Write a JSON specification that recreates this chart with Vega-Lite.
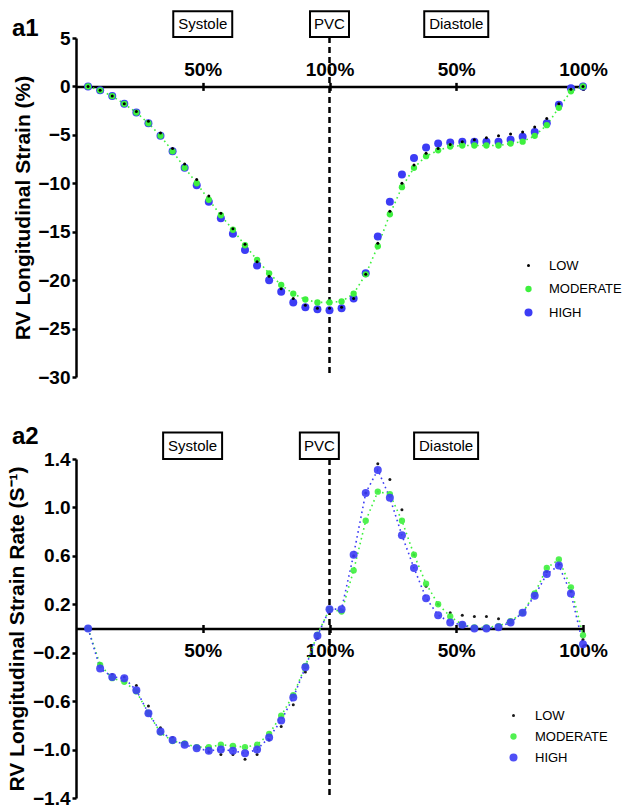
{
"$schema": "https://vega.github.io/schema/vega-lite/v6.json",
"padding": {"left": 6, "top": 7, "right": 0, "bottom": 0},
"config": {
  "view": {"stroke": null},
  "font": "Liberation Sans",
  "axis": {"domainColor": "#000", "domainWidth": 2.5, "tickColor": "#000", "tickWidth": 2.5, "tickSize": 4, "labelColor": "#000", "labelFont": "Liberation Sans", "labelFontWeight": "bold", "labelFontSize": 19, "labelFlush": false, "labelOverlap": false, "titleColor": "#000", "titleFont": "Liberation Sans", "titleFontWeight": "bold", "titleFontSize": 21, "grid": false},
  "legend": {"labelFont": "Liberation Sans", "labelFontSize": 13, "labelFontWeight": "normal", "labelColor": "#000", "symbolStrokeWidth": 0, "padding": 0, "symbolType": "circle"},
  "title": {"font": "Liberation Sans", "fontSize": 24, "fontWeight": "bold", "color": "#000", "anchor": "start"}
},
"resolve": {"scale": {"color": "independent", "size": "independent", "shape": "independent"}, "legend": {"color": "independent", "size": "independent"}},
"datasets": {
  "a1": [
    {"x": 4.76, "LOW": 0, "MODERATE": 0, "HIGH": 0},
    {"x": 9.52, "LOW": -0.4, "MODERATE": -0.4, "HIGH": -0.4},
    {"x": 14.29, "LOW": -1.0, "MODERATE": -1.0, "HIGH": -1.0},
    {"x": 19.05, "LOW": -1.8, "MODERATE": -1.8, "HIGH": -1.8},
    {"x": 23.81, "LOW": -2.6, "MODERATE": -2.7, "HIGH": -2.7},
    {"x": 28.57, "LOW": -3.6, "MODERATE": -3.8, "HIGH": -3.8},
    {"x": 33.33, "LOW": -4.8, "MODERATE": -5.1, "HIGH": -5.1},
    {"x": 38.10, "LOW": -6.4, "MODERATE": -6.7, "HIGH": -6.7},
    {"x": 42.86, "LOW": -8.0, "MODERATE": -8.4, "HIGH": -8.4},
    {"x": 47.62, "LOW": -9.6, "MODERATE": -10.0, "HIGH": -10.2},
    {"x": 52.38, "LOW": -11.3, "MODERATE": -11.7, "HIGH": -11.9},
    {"x": 57.14, "LOW": -13.1, "MODERATE": -13.3, "HIGH": -13.6},
    {"x": 61.90, "LOW": -14.7, "MODERATE": -14.8, "HIGH": -15.2},
    {"x": 66.67, "LOW": -16.3, "MODERATE": -16.4, "HIGH": -16.9},
    {"x": 71.43, "LOW": -18.1, "MODERATE": -17.9, "HIGH": -18.5},
    {"x": 76.19, "LOW": -19.6, "MODERATE": -19.3, "HIGH": -20.0},
    {"x": 80.95, "LOW": -20.9, "MODERATE": -20.5, "HIGH": -21.2},
    {"x": 85.71, "LOW": -21.9, "MODERATE": -21.4, "HIGH": -22.3},
    {"x": 90.48, "LOW": -22.6, "MODERATE": -22.0, "HIGH": -22.8},
    {"x": 95.24, "LOW": -22.9, "MODERATE": -22.3, "HIGH": -23.0},
    {"x": 100, "LOW": -22.9, "MODERATE": -22.3, "HIGH": -23.1},
    {"x": 104.76, "LOW": -22.8, "MODERATE": -22.2, "HIGH": -22.9},
    {"x": 109.52, "LOW": -21.9, "MODERATE": -21.4, "HIGH": -21.9},
    {"x": 114.29, "LOW": -19.4, "MODERATE": -19.4, "HIGH": -19.3},
    {"x": 119.05, "LOW": -16.2, "MODERATE": -16.5, "HIGH": -15.5},
    {"x": 123.81, "LOW": -12.9, "MODERATE": -13.2, "HIGH": -11.9},
    {"x": 128.57, "LOW": -10.0, "MODERATE": -10.4, "HIGH": -9.1},
    {"x": 133.33, "LOW": -8.1, "MODERATE": -8.4, "HIGH": -7.4},
    {"x": 138.10, "LOW": -6.9, "MODERATE": -7.2, "HIGH": -6.3},
    {"x": 142.86, "LOW": -6.4, "MODERATE": -6.6, "HIGH": -5.9},
    {"x": 147.62, "LOW": -6.0, "MODERATE": -6.2, "HIGH": -5.8},
    {"x": 152.38, "LOW": -5.7, "MODERATE": -6.1, "HIGH": -5.7},
    {"x": 157.14, "LOW": -5.5, "MODERATE": -6.1, "HIGH": -5.7},
    {"x": 161.90, "LOW": -5.3, "MODERATE": -6.1, "HIGH": -5.7},
    {"x": 166.67, "LOW": -5.1, "MODERATE": -6.1, "HIGH": -5.7},
    {"x": 171.43, "LOW": -4.9, "MODERATE": -5.9, "HIGH": -5.5},
    {"x": 176.19, "LOW": -4.7, "MODERATE": -5.7, "HIGH": -5.2},
    {"x": 180.95, "LOW": -4.2, "MODERATE": -5.1, "HIGH": -4.7},
    {"x": 185.71, "LOW": -3.3, "MODERATE": -4.0, "HIGH": -3.8},
    {"x": 190.48, "LOW": -1.8, "MODERATE": -2.2, "HIGH": -1.9},
    {"x": 195.24, "LOW": -0.3, "MODERATE": -0.5, "HIGH": -0.2},
    {"x": 200, "LOW": 0, "MODERATE": 0, "HIGH": 0}
  ],
  "a2": [
    {"x": 4.76, "LOW": 0, "MODERATE": 0, "HIGH": 0},
    {"x": 9.52, "LOW": -0.29, "MODERATE": -0.30, "HIGH": -0.33},
    {"x": 14.29, "LOW": -0.38, "MODERATE": -0.41, "HIGH": -0.40},
    {"x": 19.05, "LOW": -0.40, "MODERATE": -0.44, "HIGH": -0.41},
    {"x": 23.81, "LOW": -0.47, "MODERATE": -0.52, "HIGH": -0.51},
    {"x": 28.57, "LOW": -0.64, "MODERATE": -0.70, "HIGH": -0.70},
    {"x": 33.33, "LOW": -0.82, "MODERATE": -0.86, "HIGH": -0.85},
    {"x": 38.10, "LOW": -0.90, "MODERATE": -0.93, "HIGH": -0.92},
    {"x": 42.86, "LOW": -0.95, "MODERATE": -0.95, "HIGH": -0.96},
    {"x": 47.62, "LOW": -0.98, "MODERATE": -0.98, "HIGH": -0.99},
    {"x": 52.38, "LOW": -1.02, "MODERATE": -0.98, "HIGH": -1.01},
    {"x": 57.14, "LOW": -1.04, "MODERATE": -0.96, "HIGH": -1.00},
    {"x": 61.90, "LOW": -1.04, "MODERATE": -0.97, "HIGH": -1.01},
    {"x": 66.67, "LOW": -1.08, "MODERATE": -0.98, "HIGH": -1.03},
    {"x": 71.43, "LOW": -1.04, "MODERATE": -0.96, "HIGH": -1.00},
    {"x": 76.19, "LOW": -0.92, "MODERATE": -0.87, "HIGH": -0.90},
    {"x": 80.95, "LOW": -0.81, "MODERATE": -0.72, "HIGH": -0.76},
    {"x": 85.71, "LOW": -0.63, "MODERATE": -0.55, "HIGH": -0.57},
    {"x": 90.48, "LOW": -0.36, "MODERATE": -0.31, "HIGH": -0.32},
    {"x": 95.24, "LOW": -0.08, "MODERATE": -0.05, "HIGH": -0.06},
    {"x": 100, "LOW": 0.16, "MODERATE": 0.16, "HIGH": 0.16},
    {"x": 104.76, "LOW": 0.15, "MODERATE": 0.14, "HIGH": 0.16},
    {"x": 109.52, "LOW": 0.60, "MODERATE": 0.48, "HIGH": 0.61},
    {"x": 114.29, "LOW": 1.12, "MODERATE": 0.89, "HIGH": 1.12},
    {"x": 119.05, "LOW": 1.36, "MODERATE": 1.13, "HIGH": 1.31},
    {"x": 123.81, "LOW": 1.23, "MODERATE": 1.11, "HIGH": 1.08},
    {"x": 128.57, "LOW": 0.98, "MODERATE": 0.89, "HIGH": 0.77},
    {"x": 133.33, "LOW": 0.61, "MODERATE": 0.61, "HIGH": 0.50},
    {"x": 138.10, "LOW": 0.35, "MODERATE": 0.37, "HIGH": 0.25},
    {"x": 142.86, "LOW": 0.20, "MODERATE": 0.20, "HIGH": 0.11},
    {"x": 147.62, "LOW": 0.13, "MODERATE": 0.10, "HIGH": 0.05},
    {"x": 152.38, "LOW": 0.11, "MODERATE": 0.03, "HIGH": 0.03},
    {"x": 157.14, "LOW": 0.10, "MODERATE": 0.01, "HIGH": 0.00},
    {"x": 161.90, "LOW": 0.10, "MODERATE": 0.01, "HIGH": 0.00},
    {"x": 166.67, "LOW": 0.08, "MODERATE": 0.02, "HIGH": 0.01},
    {"x": 171.43, "LOW": 0.07, "MODERATE": 0.06, "HIGH": 0.05},
    {"x": 176.19, "LOW": 0.13, "MODERATE": 0.13, "HIGH": 0.13},
    {"x": 180.95, "LOW": 0.27, "MODERATE": 0.29, "HIGH": 0.27},
    {"x": 185.71, "LOW": 0.47, "MODERATE": 0.50, "HIGH": 0.45},
    {"x": 190.48, "LOW": 0.53, "MODERATE": 0.57, "HIGH": 0.52},
    {"x": 195.24, "LOW": 0.31, "MODERATE": 0.34, "HIGH": 0.29},
    {"x": 200, "LOW": -0.09, "MODERATE": -0.055, "HIGH": -0.13}
  ],
  "boxes1": [
    {"label": "Systole", "x": 50},
    {"label": "PVC", "x": 100},
    {"label": "Diastole", "x": 150}
  ],
  "boxes2": [
    {"label": "Systole", "x": 46},
    {"label": "PVC", "x": 96},
    {"label": "Diastole", "x": 146}
  ]
},
"spacing": 38,
"vconcat": [
  {
    "width": 507,
    "height": 339,
    "title": {"text": "a1", "frame": "group", "dx": -64, "dy": 38},
    "resolve": {"axis": {"x": "independent"}},
    "layer": [
      {
        "data": {"values": [{"x": 100}]},
        "mark": {"type": "rule", "color": "#000", "strokeWidth": 2.5, "strokeDash": [6, 4]},
        "encoding": {
          "x": {"field": "x", "type": "quantitative", "scale": {"domain": [0, 200], "nice": false, "zero": false}, "axis": {"orient": "bottom", "offset": -290.6, "values": [50, 100, 150, 200], "labels": false, "domain": false, "title": null}},
          "y": {"datum": 5.1, "type": "quantitative", "scale": {"domain": [-30, 5], "nice": false}, "axis": {"values": [-30, -25, -20, -15, -10, -5, 0, 5], "title": "RV Longitudinal Strain (%)", "labelPadding": 2, "titlePadding": 4}},
          "y2": {"datum": -30}
        }
      },
      {
        "data": {"name": "a1"},
        "mark": {"type": "line", "color": "#3ef03e", "strokeWidth": 1.6, "strokeDash": [1.6, 3.4]},
        "encoding": {
          "x": {"field": "x", "type": "quantitative", "scale": {"domain": [0, 200], "nice": false, "zero": false}, "axis": null},
          "y": {"field": "MODERATE", "type": "quantitative", "scale": {"domain": [-30, 5], "nice": false}, "axis": {"values": [-30, -25, -20, -15, -10, -5, 0, 5], "title": "RV Longitudinal Strain (%)", "labelPadding": 2, "titlePadding": 4}}
        }
      },
      {
        "data": {"name": "a1"},
        "transform": [{"fold": ["HIGH", "MODERATE", "LOW"], "as": ["series", "value"]}],
        "mark": {"type": "point", "filled": true, "opacity": 1},
        "encoding": {
          "x": {"field": "x", "type": "quantitative", "scale": {"domain": [0, 200], "nice": false, "zero": false}, "axis": {"orient": "top", "offset": -48.4, "values": [50, 100, 150, 200], "labelExpr": "datum.value == 50 || datum.value == 150 ? '50%' : '100%'", "labelPadding": 3, "title": null}},
          "y": {"field": "value", "type": "quantitative", "scale": {"domain": [-30, 5], "nice": false}, "axis": {"values": [-30, -25, -20, -15, -10, -5, 0, 5], "title": "RV Longitudinal Strain (%)", "labelPadding": 2, "titlePadding": 4}},
          "color": {"field": "series", "type": "nominal", "scale": {"domain": ["LOW", "MODERATE", "HIGH"], "range": ["#000000", "#3ef03e", "#3c3cf5"]}, "legend": {"orient": "none", "legendX": 446, "legendY": 221, "title": null, "labelOffset": 14, "rowPadding": 9.5, "encode": {"symbols": {"update": {"shape": {"signal": "datum.value === 'MODERATE' ? 'M1,0A1,1 0 1,1 -1,0A1,1 0 1,1 1,0Z M-2.6,-0.22h0.44v0.44h-0.44Z M2.16,-0.22h0.44v0.44h-0.44Z' : 'circle'"}}}}}},
          "size": {"field": "series", "type": "nominal", "scale": {"type": "ordinal", "domain": ["LOW", "MODERATE", "HIGH"], "range": [9, 40, 64]}, "legend": {"orient": "none", "legendX": 446, "legendY": 221, "title": null, "labelOffset": 14, "rowPadding": 9.5, "encode": {"symbols": {"update": {"shape": {"signal": "datum.value === 'MODERATE' ? 'M1,0A1,1 0 1,1 -1,0A1,1 0 1,1 1,0Z M-2.6,-0.22h0.44v0.44h-0.44Z M2.16,-0.22h0.44v0.44h-0.44Z' : 'circle'"}}}}}}
        }
      },
      {
        "data": {"name": "boxes1"},
        "mark": {"type": "point", "filled": false, "fill": "#fff", "fillOpacity": 1, "stroke": "#000", "strokeWidth": 2, "opacity": 1, "size": 3600},
        "encoding": {
          "x": {"field": "x", "type": "quantitative", "scale": {"domain": [0, 200], "nice": false, "zero": false}, "axis": null},
          "y": {"datum": 6.43, "type": "quantitative", "scale": {"domain": [-30, 5], "nice": false}, "axis": {"values": [-30, -25, -20, -15, -10, -5, 0, 5], "title": "RV Longitudinal Strain (%)", "labelPadding": 2, "titlePadding": 4}},
          "shape": {"field": "label", "type": "nominal", "scale": {"domain": ["Systole", "PVC", "Diastole"], "range": ["M-0.983,-0.43L0.983,-0.43L0.983,0.43L-0.983,0.43Z", "M-0.65,-0.43L0.65,-0.43L0.65,0.43L-0.65,0.43Z", "M-1.067,-0.43L1.067,-0.43L1.067,0.43L-1.067,0.43Z"]}, "legend": null}
        }
      },
      {
        "data": {"name": "boxes1"},
        "mark": {"type": "text", "fontSize": 15, "color": "#000", "baseline": "middle", "font": "Liberation Sans"},
        "encoding": {
          "x": {"field": "x", "type": "quantitative", "scale": {"domain": [0, 200], "nice": false, "zero": false}, "axis": null},
          "y": {"datum": 6.43, "type": "quantitative", "scale": {"domain": [-30, 5], "nice": false}, "axis": {"values": [-30, -25, -20, -15, -10, -5, 0, 5], "title": "RV Longitudinal Strain (%)", "labelPadding": 2, "titlePadding": 4}},
          "text": {"field": "label"}
        }
      }
    ]
  },
  {
    "width": 507,
    "height": 339,
    "title": {"text": "a2", "frame": "group", "dx": -64, "dy": 25},
    "resolve": {"axis": {"x": "independent"}},
    "layer": [
      {
        "data": {"values": [{"x": 100}]},
        "mark": {"type": "rule", "color": "#000", "strokeWidth": 2.5, "strokeDash": [6, 4]},
        "encoding": {
          "x": {"field": "x", "type": "quantitative", "scale": {"domain": [0, 200], "nice": false, "zero": false}, "axis": {"orient": "top", "offset": -169.5, "values": [50, 100, 150, 200], "labels": false, "domain": false, "title": null}},
          "y": {"datum": 1.4, "type": "quantitative", "scale": {"domain": [-1.4, 1.4], "nice": false}, "axis": {"values": [-1.4, -1.0, -0.6, -0.2, 0.2, 0.6, 1.0, 1.4], "format": ".1f", "title": "RV Longitudinal Strain Rate (S⁻¹)", "labelPadding": 2, "titlePadding": 5}},
          "y2": {"datum": -1.4}
        }
      },
      {
        "data": {"name": "a2"},
        "mark": {"type": "line", "color": "#3ef03e", "strokeWidth": 1.6, "strokeDash": [1.6, 3.4]},
        "encoding": {
          "x": {"field": "x", "type": "quantitative", "scale": {"domain": [0, 200], "nice": false, "zero": false}, "axis": null},
          "y": {"field": "MODERATE", "type": "quantitative", "scale": {"domain": [-1.4, 1.4], "nice": false}, "axis": {"values": [-1.4, -1.0, -0.6, -0.2, 0.2, 0.6, 1.0, 1.4], "format": ".1f", "title": "RV Longitudinal Strain Rate (S⁻¹)", "labelPadding": 2, "titlePadding": 5}}
        }
      },
      {
        "data": {"name": "a2"},
        "mark": {"type": "line", "color": "#3c3cf5", "strokeWidth": 1.6, "strokeDash": [1.6, 3.4]},
        "encoding": {
          "x": {"field": "x", "type": "quantitative", "scale": {"domain": [0, 200], "nice": false, "zero": false}, "axis": null},
          "y": {"field": "HIGH", "type": "quantitative", "scale": {"domain": [-1.4, 1.4], "nice": false}, "axis": {"values": [-1.4, -1.0, -0.6, -0.2, 0.2, 0.6, 1.0, 1.4], "format": ".1f", "title": "RV Longitudinal Strain Rate (S⁻¹)", "labelPadding": 2, "titlePadding": 5}}
        }
      },
      {
        "data": {"name": "a2"},
        "transform": [{"fold": ["LOW", "MODERATE", "HIGH"], "as": ["series", "value"]}],
        "mark": {"type": "point", "filled": true, "opacity": 0.9},
        "encoding": {
          "x": {"field": "x", "type": "quantitative", "scale": {"domain": [0, 200], "nice": false, "zero": false}, "axis": {"orient": "bottom", "offset": -169.5, "values": [50, 100, 150, 200], "labelExpr": "datum.value == 50 || datum.value == 150 ? '50%' : '100%'", "labelPadding": 9, "title": null}},
          "y": {"field": "value", "type": "quantitative", "scale": {"domain": [-1.4, 1.4], "nice": false}, "axis": {"values": [-1.4, -1.0, -0.6, -0.2, 0.2, 0.6, 1.0, 1.4], "format": ".1f", "title": "RV Longitudinal Strain Rate (S⁻¹)", "labelPadding": 2, "titlePadding": 5}},
          "color": {"field": "series", "type": "nominal", "scale": {"domain": ["LOW", "MODERATE", "HIGH"], "range": ["#000000", "#3ef03e", "#3c3cf5"]}, "legend": {"orient": "none", "legendX": 431, "legendY": 250, "title": null, "labelOffset": 15, "rowPadding": 7, "encode": {"symbols": {"update": {"shape": {"signal": "datum.value === 'MODERATE' ? 'M1,0A1,1 0 1,1 -1,0A1,1 0 1,1 1,0Z M-2.6,-0.22h0.44v0.44h-0.44Z M2.16,-0.22h0.44v0.44h-0.44Z' : datum.value === 'HIGH' ? 'M1,0A1,1 0 1,1 -1,0A1,1 0 1,1 1,0Z M-2.0,-0.18h0.36v0.36h-0.36Z M1.64,-0.18h0.36v0.36h-0.36Z' : 'circle'"}}}}}},
          "size": {"field": "series", "type": "nominal", "scale": {"type": "ordinal", "domain": ["LOW", "MODERATE", "HIGH"], "range": [9, 40, 64]}, "legend": {"orient": "none", "legendX": 431, "legendY": 250, "title": null, "labelOffset": 15, "rowPadding": 7, "encode": {"symbols": {"update": {"shape": {"signal": "datum.value === 'MODERATE' ? 'M1,0A1,1 0 1,1 -1,0A1,1 0 1,1 1,0Z M-2.6,-0.22h0.44v0.44h-0.44Z M2.16,-0.22h0.44v0.44h-0.44Z' : datum.value === 'HIGH' ? 'M1,0A1,1 0 1,1 -1,0A1,1 0 1,1 1,0Z M-2.0,-0.18h0.36v0.36h-0.36Z M1.64,-0.18h0.36v0.36h-0.36Z' : 'circle'"}}}}}}
        }
      },
      {
        "data": {"name": "boxes2"},
        "mark": {"type": "point", "filled": false, "fill": "#fff", "fillOpacity": 1, "stroke": "#000", "strokeWidth": 2, "opacity": 1, "size": 3600},
        "encoding": {
          "x": {"field": "x", "type": "quantitative", "scale": {"domain": [0, 200], "nice": false, "zero": false}, "axis": null},
          "y": {"datum": 1.51, "type": "quantitative", "scale": {"domain": [-1.4, 1.4], "nice": false}, "axis": {"values": [-1.4, -1.0, -0.6, -0.2, 0.2, 0.6, 1.0, 1.4], "format": ".1f", "title": "RV Longitudinal Strain Rate (S⁻¹)", "labelPadding": 2, "titlePadding": 5}},
          "shape": {"field": "label", "type": "nominal", "scale": {"domain": ["Systole", "PVC", "Diastole"], "range": ["M-0.983,-0.443L0.983,-0.443L0.983,0.443L-0.983,0.443Z", "M-0.65,-0.443L0.65,-0.443L0.65,0.443L-0.65,0.443Z", "M-1.067,-0.443L1.067,-0.443L1.067,0.443L-1.067,0.443Z"]}, "legend": null}
        }
      },
      {
        "data": {"name": "boxes2"},
        "mark": {"type": "text", "fontSize": 15, "color": "#000", "baseline": "middle", "font": "Liberation Sans"},
        "encoding": {
          "x": {"field": "x", "type": "quantitative", "scale": {"domain": [0, 200], "nice": false, "zero": false}, "axis": null},
          "y": {"datum": 1.51, "type": "quantitative", "scale": {"domain": [-1.4, 1.4], "nice": false}, "axis": {"values": [-1.4, -1.0, -0.6, -0.2, 0.2, 0.6, 1.0, 1.4], "format": ".1f", "title": "RV Longitudinal Strain Rate (S⁻¹)", "labelPadding": 2, "titlePadding": 5}},
          "text": {"field": "label"}
        }
      }
    ]
  }
]
}
